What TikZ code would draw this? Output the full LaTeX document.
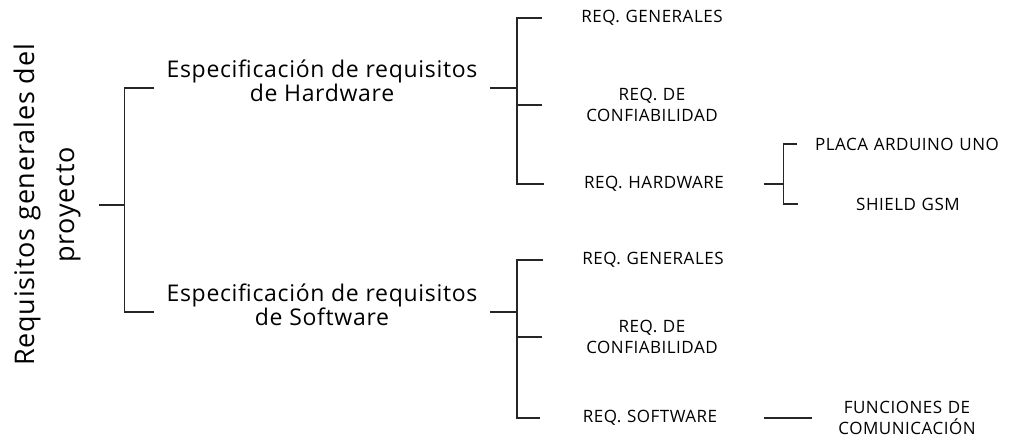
\documentclass[tikz,border=0pt]{standalone}
\usepackage{fontspec}
\setmainfont{Open Sans}[LetterSpace=3]
\usetikzlibrary{calc, positioning}

\begin{document}
\frenchspacing
\begin{tikzpicture}[x=1pt, y=-1pt, line width=1.1pt, draw=black!85,
        raiz/.style={align=center, rotate=90, inner ysep=18pt, font=\fontsize{27}{40}\selectfont},
        rama/.style={align=center, inner xsep=12pt, font=\fontsize{23}{24.4}\selectfont},
        hoja/.style={align=center, text width=218pt, inner sep=0pt, font=\fontsize{17}{20.5}\selectfont}]
        \useasboundingbox (0,0) rectangle (1012,438);

        \node[raiz] (req) at (47,205) {Requisitos generales del\\proyecto};

        \node[rama] (hw) at (322,81) {Especificación de requisitos\\de Hardware};
        \node[rama] (sw) at (322,305) {Especificación de requisitos\\de Software};

        \node[hoja] (hwgen) at (652,18) {REQ. GENERALES};
        \node[hoja] (hwconf) at (652,105) {REQ. DE\\CONFIABILIDAD};
        \node[hoja] (hwreq) at (654,184) {REQ. HARDWARE};
        \node[hoja] (placa) at (907,144) {PLACA ARDUINO UNO};
        \node[hoja] (shield) at (908,204) {SHIELD GSM};

        \node[hoja] (swgen) at (653,260) {REQ. GENERALES};
        \node[hoja] (swconf) at (652,337) {REQ. DE\\CONFIABILIDAD};
        \node[hoja] (swreq) at (650,418) {REQ. SOFTWARE};
        \node[hoja] (func) at (907,418) {FUNCIONES DE\\COMUNICACIÓN};

        \draw (req.south) -- ++(25,0) coordinate (jr);
        \draw ([yshift=-7pt]hw.west) -| (jr) |- ([yshift=-7pt]sw.west);

        \draw ([yshift=-7pt]hw.east) -- ++(27,0) coordinate (jhw);
        \draw (hwgen.west) -| (jhw) |- (hwreq.west);
        \draw (jhw |- hwconf.west) -- (hwconf.west);

        \draw ([yshift=-7pt]sw.east) -- ++(27,0) coordinate (jsw);
        \draw (swgen.west) -| (jsw) |- (swreq.west);
        \draw (jsw |- swconf.west) -- (swconf.west);

        \draw (hwreq.east) -- ++(20,0) coordinate (jreq);
        \draw (placa.west) -| (jreq) |- (shield.west);

        \draw ([xshift=4pt]swreq.east) -- ([xshift=15pt]func.west);
    \end{tikzpicture}
\end{document}
